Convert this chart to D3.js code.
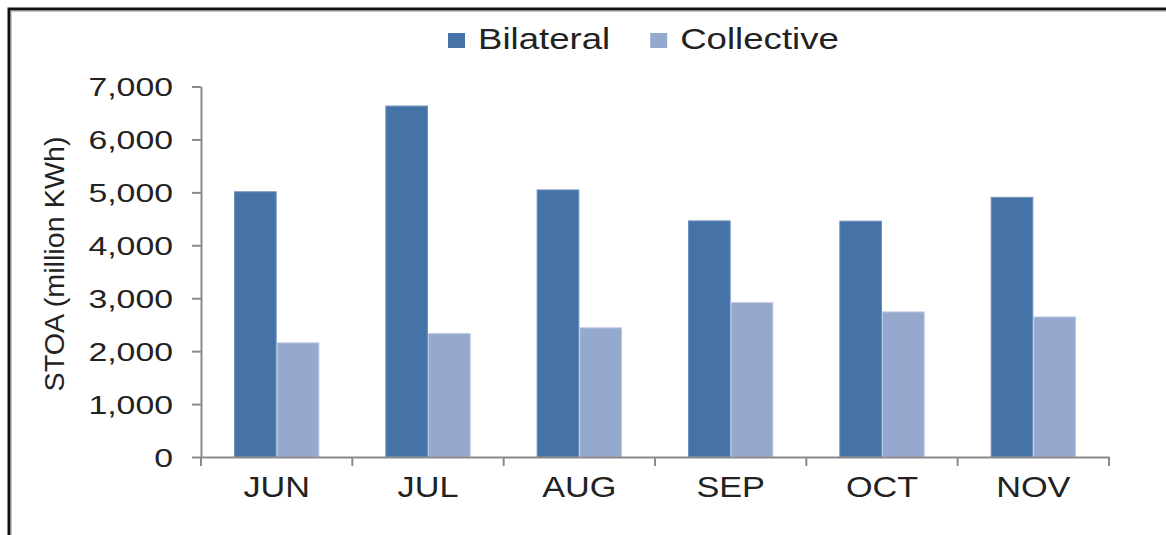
<!DOCTYPE html>
<html><head><meta charset="utf-8">
<script src="https://cdn.jsdelivr.net/npm/d3@7"></script>
<style>html,body{margin:0;padding:0;background:#fff;} svg{display:block;font-family:"Liberation Sans",Arial,sans-serif;}</style>
</head><body><svg id="chart" width="1166" height="535"></svg>
<script>
const months = ["JUN","JUL","AUG","SEP","OCT","NOV"];
const seriesNames = ["Bilateral","Collective"];
const bilateral = [5020,6640,5055,4470,4465,4915];
const collective = [2165,2340,2450,2925,2750,2655];
const yTicks = [0,1000,2000,3000,4000,5000,6000,7000];
const yTitle = "STOA (million KWh)";
const colors = ["#4572A7","#95A9CF"];
const strokes = ["#6f90bd","#b9c7e2"];

const svg = d3.select("#chart");
const W = 1166, H = 535;
const plot = {left:201, right:1109, top:86.5, bottom:457};
const textColor = "#222";

function stretch(sel, f){
  sel.each(function(){
    const L = this.getComputedTextLength();
    this.setAttribute("textLength", (L*f).toFixed(1));
    this.setAttribute("lengthAdjust","spacingAndGlyphs");
  });
}

// frame
svg.append("path").attr("d",`M9,${H}V9H${W}`).attr("fill","none").attr("stroke","#111").attr("stroke-width",3);
svg.append("path").attr("d",`M11.5,${H}V11.5H${W}`).attr("fill","none").attr("stroke","#c8c8c8").attr("stroke-width",1);

const x = d3.scaleBand().domain(months).range([plot.left, plot.right]).paddingInner(0.436).paddingOuter(0.218);
const xs = d3.scaleBand().domain(seriesNames).range([0, x.bandwidth()]).padding(0);
const y = d3.scaleLinear().domain([0, 7000]).range([plot.bottom, plot.top]);

const rows = months.map((m,i)=>({month:m, values:[bilateral[i], collective[i]]}));

// bars
const grp = svg.append("g").selectAll("g").data(rows).join("g")
  .attr("transform", d=>`translate(${x(d.month)},0)`);
grp.selectAll("rect").data(d=>d.values.map((v,j)=>({name:seriesNames[j], v, j}))).join("rect")
  .attr("x", d=>xs(d.name)+0.5)
  .attr("width", xs.bandwidth()-1)
  .attr("y", d=>y(d.v)+0.5)
  .attr("height", d=>y(0)-y(d.v)-0.5)
  .attr("fill", d=>colors[d.j])
  .attr("stroke", d=>strokes[d.j])
  .attr("stroke-width", 1);

// y axis
const yAxis = svg.append("g").attr("transform",`translate(${plot.left},0)`)
  .call(d3.axisLeft(y).tickValues(yTicks).tickFormat(d3.format(",")).tickSize(9).tickSizeOuter(0).tickPadding(19));
yAxis.attr("font-size",null).attr("font-family",null);
yAxis.select(".domain").attr("stroke","#8a8a8a").attr("stroke-width",2);
yAxis.selectAll(".tick line").attr("stroke","#8a8a8a").attr("stroke-width",2);
yAxis.selectAll(".tick text").attr("font-size",26).attr("fill",textColor).attr("dy","0.35em").call(stretch,1.3);

// x axis
const xAxis = svg.append("g").attr("transform",`translate(0,${y(0)})`)
  .call(d3.axisBottom(x).tickSize(0).tickSizeOuter(0));
xAxis.attr("font-size",null).attr("font-family",null);
xAxis.select(".domain").attr("stroke","#8a8a8a").attr("stroke-width",2);
xAxis.selectAll(".tick text").attr("font-size",29).attr("fill",textColor).attr("y",40).attr("dy",0).call(stretch,1.18);
xAxis.selectAll(".bound").data(d3.range(months.length+1)).join("line").attr("class","bound")
  .attr("x1", i=>x.range()[0]+i*x.step()).attr("x2", i=>x.range()[0]+i*x.step())
  .attr("y1",0).attr("y2",9).attr("stroke","#8a8a8a").attr("stroke-width",2);

// y title
svg.append("text").attr("transform",`translate(64,264) rotate(-90)`)
  .attr("text-anchor","middle").attr("font-size",27).attr("fill",textColor)
  .text(yTitle).call(stretch,1.0)
  .attr("textLength",255);

// legend
const leg = svg.append("g");
let lx = 448;
seriesNames.forEach((n,i)=>{
  leg.append("rect").attr("x",lx).attr("y",33).attr("width",17).attr("height",15).attr("fill",colors[i]);
  const t = leg.append("text").attr("x",lx+30).attr("y",49).attr("font-size",30).attr("fill",textColor).text(n);
  t.call(stretch,1.22);
  const w = +t.attr("textLength");
  lx = lx + 30 + w + 40;
});
</script></body></html>
